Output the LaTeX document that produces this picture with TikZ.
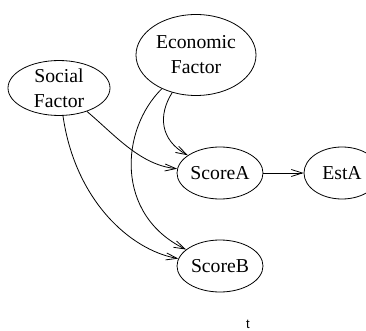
\documentclass[tikz,border=0pt]{standalone}
\usepackage{fontspec}
\setmainfont{Liberation Serif}
\newfontfamily\tfont{Liberation Sans}
\usetikzlibrary{shapes.geometric,arrows.meta}
\begin{document}
\begin{tikzpicture}[x=1pt,y=1pt,
  var/.style={draw,ellipse,inner sep=0pt,line width=0.8pt,align=center,
    font=\fontsize{19.7}{25}\selectfont},
  edge/.style={line width=0.8pt,-{Straight Barb[length=11pt,width=7pt,line width=0.8pt]}}]
\useasboundingbox (0,0) rectangle (366,-331);
\node[var,minimum width=102pt,minimum height=54pt] (soc) at (59,-88) {Social\\Factor};
\node[var,minimum width=120pt,minimum height=81pt] (eco) at (196,-55) {Economic\\Factor};
\node[var,minimum width=86pt,minimum height=52pt] (sa) at (220,-173) {ScoreA};
\node[var,minimum width=86pt,minimum height=52pt] (sb) at (220,-266) {ScoreB};
\node[var,minimum width=76pt,minimum height=52pt] (ea) at (342,-173) {EstA};
\node[font=\tfont\fontsize{13}{15}\selectfont,inner sep=0pt,anchor=north] (t) at (248,-320) {t};
\draw[edge] (soc) .. controls (115,-135) and (140,-165) .. (sa);
\draw[edge] (soc) .. controls (75,-200) and (130,-250) .. (sb);
\draw[edge] (eco) .. controls (158,-115) and (160,-140) .. (sa);
\draw[edge] (eco) .. controls (120,-130) and (115,-215) .. (sb);
\draw[edge] (sa) -- (ea);
\end{tikzpicture}
\end{document}
